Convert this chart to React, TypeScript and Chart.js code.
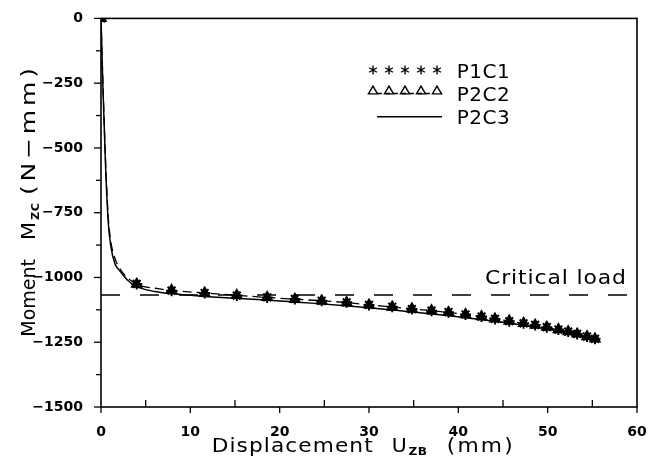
import React, { useEffect, useRef } from 'react';
import { Chart, registerables } from 'chart.js';

Chart.register(...registerables);

// ---- data ----
const markerX = [0, 4.0, 7.9, 11.6, 15.2, 18.6, 21.7, 24.7, 27.5, 30.0, 32.6, 34.8, 37.0, 38.9, 40.8, 42.6, 44.1, 45.7, 47.3, 48.6, 49.9, 51.2, 52.3, 53.3, 54.4, 55.3];
const p1c1Y = [0, -1025, -1051, -1060, -1070, -1077, -1083, -1090, -1096, -1106, -1113, -1122, -1128, -1134, -1143, -1151, -1160, -1169, -1177, -1183, -1192, -1201, -1209, -1218, -1228, -1237];
const p2c2MarkY = [0, -1026, -1050, -1060, -1069, -1077, -1084, -1090, -1097, -1106, -1114, -1121, -1128, -1135, -1143, -1151, -1160, -1168, -1177, -1184, -1192, -1201, -1209, -1218, -1228, -1237];

const p2c2CurveX = [0, 0.2, 0.5, 0.8, 1.1, 1.6, 2.1, 3.0, 4.0, 6.5, 7.9, 11.6, 15.2, 18.6, 21.7, 24.7, 27.5, 30.0, 32.6, 34.8, 37.0, 38.9, 40.8, 42.6, 44.1, 45.7, 47.3, 48.6, 49.9, 51.2, 52.3, 53.3, 54.4, 55.3];
const p2c2CurveY = [0, -230, -540, -760, -860, -930, -965, -1002, -1026, -1044, -1050, -1060, -1069, -1077, -1084, -1090, -1097, -1106, -1114, -1121, -1128, -1135, -1143, -1151, -1160, -1168, -1177, -1184, -1192, -1201, -1209, -1218, -1228, -1237];

const p2c3X = [0, 0.2, 0.5, 0.82, 1.1, 1.57, 2.1, 3.05, 3.8, 5, 6, 8, 10, 12, 15, 18, 21, 24, 27, 30, 33, 36, 39, 42, 45, 48, 51, 53, 55.4];
const p2c3Y = [0, -250, -560, -790, -880, -948, -974, -1013, -1032, -1047, -1054, -1063, -1069, -1074, -1080, -1086, -1093, -1100, -1108, -1117, -1127, -1137, -1148, -1160, -1173, -1188, -1204, -1216, -1244];

const criticalLoad = -1068;
const criticalLineEnd = 59.3;

const xMin = 0, xMax = 60, xLabelStep = 10, xTickStep = 5;
const yMin = -1500, yMax = 0, yLabelStep = 250, yTickStep = 125;

const seriesNames = ['P1C1', 'P2C2', 'P2C3'];
const criticalText = 'Critical load';
const xTitleMain = 'Displacement';
const xTitleSym = 'U';
const xTitleSub = 'ZB';
const xTitleUnit = '(mm)';
const yTitleMain = 'Moment';
const yTitleSym = 'M';
const yTitleSub = 'ZC';
const yTitleUnit = '(N\u2212mm)';

const FONT = '"DejaVu Sans", sans-serif';

function fmt(v: number) {
  return v < 0 ? '\u2212' + Math.abs(v) : String(v);
}

// draw text with a given letter spacing, then stretch horizontally to the target width
function drawFitted(ctx: CanvasRenderingContext2D, text: string, x: number, y: number, target: number, ls = 0) {
  (ctx as any).letterSpacing = ls + 'px';
  const w = ctx.measureText(text).width - ls;
  const sx = w > 0 ? target / w : 1;
  ctx.save();
  ctx.translate(x, y);
  ctx.scale(sx, 1);
  ctx.fillText(text, 0, 0);
  ctx.restore();
  (ctx as any).letterSpacing = '0px';
}

function drawStar(ctx: CanvasRenderingContext2D, x: number, y: number, r: number) {
  ctx.beginPath();
  for (let i = 0; i < 3; i++) {
    const a = Math.PI / 2 + (i * Math.PI) / 3;
    ctx.moveTo(x - r * Math.cos(a), y - r * Math.sin(a));
    ctx.lineTo(x + r * Math.cos(a), y + r * Math.sin(a));
  }
  ctx.stroke();
}

function drawTriangle(ctx: CanvasRenderingContext2D, x: number, y: number, r: number) {
  ctx.beginPath();
  ctx.moveTo(x, y - r);
  ctx.lineTo(x + r * 0.95, y + r * 0.6);
  ctx.lineTo(x - r * 0.95, y + r * 0.6);
  ctx.closePath();
  ctx.stroke();
}

const decorPlugin = {
  id: 'decor',
  afterDraw(chart: any) {
    const { ctx, chartArea: a, scales } = chart;
    const xs = scales.x, ys = scales.y;
    ctx.save();
    ctx.strokeStyle = '#000';
    ctx.fillStyle = '#000';
    ctx.lineWidth = 1.6;
    ctx.setLineDash([]);
    ctx.strokeRect(a.left, a.top, a.right - a.left, a.bottom - a.top);

    // y ticks (outward)
    ctx.lineWidth = 1.3;
    for (let v = yMin; v <= yMax; v += yTickStep) {
      const py = ys.getPixelForValue(v);
      const len = v % yLabelStep === 0 ? 7 : 5;
      ctx.beginPath();
      ctx.moveTo(a.left - len, py);
      ctx.lineTo(a.left, py);
      ctx.stroke();
    }
    // x ticks
    for (let v = xMin; v <= xMax; v += xTickStep) {
      const px = xs.getPixelForValue(v);
      ctx.beginPath();
      if (v % xLabelStep === 0) {
        ctx.moveTo(px, a.bottom);
        ctx.lineTo(px, a.bottom + 6);
      } else {
        ctx.moveTo(px, a.bottom);
        ctx.lineTo(px, a.bottom - 7);
      }
      ctx.stroke();
    }

    // legend
    const symX = [373, 389, 405, 421, 437];
    ctx.lineWidth = 1.4;
    symX.forEach((sx) => drawStar(ctx, sx, 70, 4.5));
    symX.forEach((sx) => drawTriangle(ctx, sx, 91, 4.8));
    ctx.setLineDash([4, 4]);
    ctx.beginPath();
    ctx.moveTo(378, 93.5);
    ctx.lineTo(434, 93.5);
    ctx.stroke();
    ctx.setLineDash([]);
    ctx.lineWidth = 1.5;
    ctx.beginPath();
    ctx.moveTo(377, 116.7);
    ctx.lineTo(442, 116.7);
    ctx.stroke();

    ctx.textAlign = 'left';
    ctx.textBaseline = 'alphabetic';
    ctx.font = `20px ${FONT}`;
    drawFitted(ctx, seriesNames[0], 456.7, 77.5, 53, 0.5);
    drawFitted(ctx, seriesNames[1], 456.7, 100.5, 53, 0.5);
    drawFitted(ctx, seriesNames[2], 456.7, 123.5, 53, 0.5);

    // critical load label
    drawFitted(ctx, criticalText, 485, 283.5, 141, 0.8);

    // x title
    ctx.font = `20px ${FONT}`;
    drawFitted(ctx, xTitleMain, 211.7, 451.7, 161, 1);
    drawFitted(ctx, xTitleSym, 391.7, 451.7, 15);
    ctx.font = `bold 11px ${FONT}`;
    drawFitted(ctx, xTitleSub, 408.5, 455, 18.5, 0.5);
    ctx.font = `20px ${FONT}`;
    drawFitted(ctx, xTitleUnit, 446.7, 451.7, 66, 2);

    // y title (rotated)
    ctx.save();
    ctx.translate(35, 336.7);
    ctx.rotate(-Math.PI / 2);
    ctx.font = `20px ${FONT}`;
    drawFitted(ctx, yTitleMain, 0, 0, 77.7, 0);
    drawFitted(ctx, yTitleSym, 96.7, 0, 18);
    ctx.font = `bold 11px ${FONT}`;
    drawFitted(ctx, yTitleSub, 116.7, 4, 17, 0.5);
    ctx.font = `20px ${FONT}`;
    drawFitted(ctx, yTitleUnit, 141.7, 0, 127, 3);
    ctx.restore();

    ctx.restore();
  },
};

export default function App() {
  const ref = useRef<HTMLCanvasElement>(null);
  useEffect(() => {
    if (!ref.current) return;
    const tickFont = { family: FONT, weight: 'bold' as const, size: 14 };
    const chart = new Chart(ref.current, {
      type: 'scatter',
      data: {
        datasets: [
          {
            label: 'Critical',
            data: [{ x: xMin, y: criticalLoad }, { x: criticalLineEnd, y: criticalLoad }],
            showLine: true,
            borderColor: '#000',
            borderWidth: 1.5,
            borderDash: [19, 20],
            pointRadius: 0,
          },
          {
            label: seriesNames[2],
            data: p2c3X.map((x, i) => ({ x, y: p2c3Y[i] })),
            showLine: true,
            borderColor: '#000',
            borderWidth: 1.5,
            pointRadius: 0,
            cubicInterpolationMode: 'monotone',
          },
          {
            label: seriesNames[1] + ' curve',
            data: p2c2CurveX.map((x, i) => ({ x, y: p2c2CurveY[i] })),
            showLine: true,
            borderColor: '#000',
            borderWidth: 1.3,
            borderDash: [9, 5],
            pointRadius: 0,
            cubicInterpolationMode: 'monotone',
          },
          {
            label: seriesNames[1],
            data: markerX.map((x, i) => ({ x, y: p2c2MarkY[i] })),
            showLine: false,
            pointStyle: 'triangle',
            pointRadius: 5.5,
            borderColor: '#000',
            backgroundColor: 'rgba(0,0,0,0.4)',
            borderWidth: 1.8,
          },
          {
            label: seriesNames[0],
            data: markerX.map((x, i) => ({ x, y: p1c1Y[i] })),
            showLine: false,
            pointStyle: 'star',
            pointRadius: 5.5,
            borderColor: '#000',
            backgroundColor: '#000',
            borderWidth: 2,
          },
        ],
      },
      options: {
        responsive: false,
        animation: false,
        devicePixelRatio: 1,
        layout: { padding: { top: 17, right: 28, left: 0, bottom: 0 } },
        plugins: { legend: { display: false }, tooltip: { enabled: false } },
        scales: {
          x: {
            type: 'linear',
            min: xMin,
            max: xMax,
            ticks: {
              stepSize: xLabelStep,
              font: tickFont,
              color: '#000',
              padding: 9,
              maxRotation: 0,
              autoSkip: false,
              callback: (v: any) => fmt(Number(v)),
            },
            grid: { display: false },
            border: { display: false },
            afterFit: (s: any) => {
              s.height = 52;
            },
          },
          y: {
            type: 'linear',
            min: yMin,
            max: yMax,
            ticks: {
              stepSize: yLabelStep,
              font: tickFont,
              color: '#000',
              padding: 10,
              autoSkip: false,
              callback: (v: any) => fmt(Number(v)),
            },
            grid: { display: false },
            border: { display: false },
            afterFit: (s: any) => {
              s.width = 101;
            },
          },
        },
      },
      plugins: [decorPlugin],
    });
    return () => chart.destroy();
  }, []);
  return (
    <div style={{ position: 'absolute', left: 0, top: 0, width: 665, height: 459, background: '#fff' }}>
      <canvas ref={ref} width={665} height={459} />
    </div>
  );
}
